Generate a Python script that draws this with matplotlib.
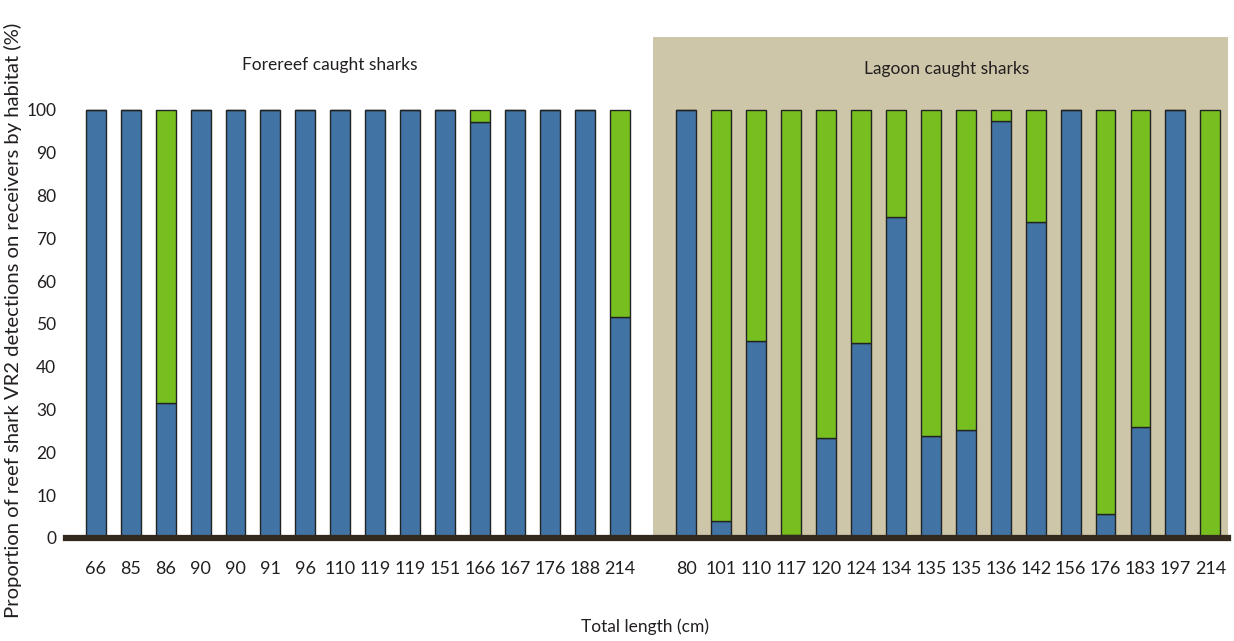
import numpy as np
import matplotlib.pyplot as plt
from matplotlib.patches import Rectangle

plt.rcParams['font.family'] = ['Lato', 'DejaVu Sans']

# forereef caught sharks
fore_lengths = ['66', '85', '86', '90', '90', '91', '96', '110', '119', '119',
                '151', '166', '167', '176', '188', '214']
fore_forereef = [100, 100, 31.4, 100, 100, 100, 100, 100, 100, 100,
                 100, 97.2, 100, 100, 100, 51.5]

# lagoon caught sharks
lag_lengths = ['80', '101', '110', '117', '120', '124', '134', '135', '135', '136',
               '142', '156', '176', '183', '197', '214']
lag_forereef = [100, 4.0, 45.9, 0.6, 23.4, 45.6, 75.0, 23.8, 25.3, 97.4,
                73.8, 100, 5.5, 25.9, 100, 0.3]

blue = '#4174a5'
green = '#77bf1f'
tan = '#cdc6a9'
edge = '#222222'
txt = '#231f20'

fig = plt.figure(figsize=(12.34, 6.41), dpi=100)
ax = fig.add_axes([0.0535, 0.161, 0.9415, 0.781])

x_fore = np.arange(16)
x_lag = np.arange(16) + 16.9
x = np.concatenate([x_fore, x_lag])
forereef = np.array(fore_forereef + lag_forereef)
lagoon = 100 - forereef
labels = fore_lengths + lag_lengths

ax.add_patch(Rectangle((15.95, 0), 17.5, 130, facecolor=tan, edgecolor='none', zorder=0))

w = 0.57
ax.bar(x, forereef, width=w, color=blue, edgecolor=edge, linewidth=1.0, zorder=2)
ax.bar(x, lagoon, width=w, bottom=forereef, color=green, edgecolor=edge, linewidth=1.0, zorder=2)

ax.axhline(0, color='#33291e', linewidth=4.5, zorder=3, clip_on=False)

ax.set_xlim(-0.85, x_lag[-1] + 0.5)
ax.set_ylim(0, 117)
ax.set_xticks(x)
ax.set_xticklabels(labels, fontsize=13, color=txt)
ax.set_yticks(np.arange(0, 101, 10))
ax.set_yticklabels([str(v) for v in range(0, 101, 10)], fontsize=12.5, color=txt)
ax.tick_params(axis='x', length=0, pad=17)
ax.tick_params(axis='y', length=0, pad=7)
for s in ax.spines.values():
    s.set_visible(False)

ax.text(6.7, 110.5, 'Forereef caught sharks', ha='center', va='center', fontsize=12.5, color=txt)
ax.text(24.35, 109.5, 'Lagoon caught sharks', ha='center', va='center', fontsize=12.5, color=txt)

fig.text(0.523, 0.022, 'Total length (cm)', ha='center', va='center', fontsize=12.5, color=txt)
fig.text(0.0105, 0.5, 'Proportion of reef shark VR2 detections on receivers by habitat (%)',
         rotation=90, ha='center', va='center', fontsize=14.6, color=txt)

fig.savefig('out.png', dpi=100)
